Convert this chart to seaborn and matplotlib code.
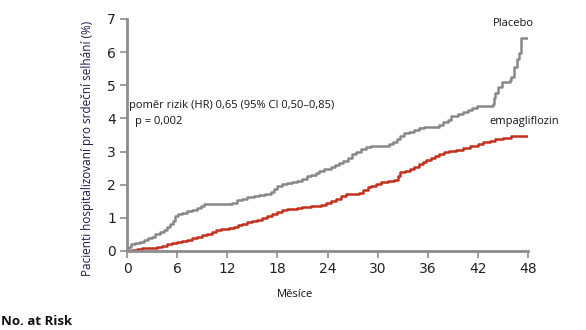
import numpy as np
import pandas as pd
import matplotlib
matplotlib.use("Agg")
import matplotlib.pyplot as plt
import seaborn as sns

# Cumulative incidence of heart-failure hospitalisation (%), step times in months
placebo_t = [0, 0.2, 0.5, 0.9, 1.5, 2.0, 2.5, 3.0, 3.4, 4.0, 4.4, 4.8, 5.2,
             5.5, 5.8, 6.1, 6.6, 7.2, 7.8, 8.4, 8.8, 9.2, 12.6, 13.2, 13.8,
             14.4, 15.2, 15.8, 16.5, 17.2, 17.6, 18.0, 18.5, 19.2, 19.8, 20.4,
             20.9, 21.5, 22.0, 22.6, 23.0, 23.6, 24.4, 24.9, 25.4, 25.8, 26.4,
             26.9, 27.4, 28.0, 28.6, 29.2, 31.4, 31.8, 32.3, 32.7, 33.2, 33.8,
             34.4, 35.0, 35.6, 37.4, 37.8, 38.4, 38.8, 39.6, 40.2, 40.8, 41.3,
             41.9, 43.8, 43.9, 44.1, 44.4, 44.9, 45.8, 46.0, 46.3, 46.7, 46.9,
             47.2, 48.0]
placebo_v = [0, 0.12, 0.2, 0.25, 0.28, 0.32, 0.38, 0.42, 0.52, 0.56, 0.64,
             0.72, 0.8, 0.92, 1.05, 1.12, 1.16, 1.2, 1.24, 1.3, 1.36, 1.41,
             1.46, 1.55, 1.58, 1.62, 1.66, 1.7, 1.73, 1.78, 1.86, 1.95, 2.01,
             2.04, 2.08, 2.12, 2.18, 2.25, 2.3, 2.36, 2.42, 2.48, 2.54, 2.6,
             2.67, 2.73, 2.82, 2.92, 3.0, 3.08, 3.15, 3.18, 3.24, 3.3, 3.38,
             3.46, 3.56, 3.6, 3.64, 3.7, 3.74, 3.8, 3.88, 3.96, 4.06, 4.12,
             4.18, 4.24, 4.3, 4.38, 4.45, 4.62, 4.76, 4.94, 5.09, 5.15, 5.24,
             5.55, 5.8, 5.97, 6.42, 6.42]

empa_t = [0, 0.6, 1.2, 1.8, 3.6, 4.2, 4.8, 5.4, 6.0, 6.6, 7.2, 7.8, 8.4, 9.0,
          9.6, 10.2, 10.7, 11.2, 12.2, 12.8, 13.3, 13.8, 14.4, 15.0, 15.6,
          16.2, 16.8, 17.4, 18.0, 18.6, 19.2, 20.4, 20.9, 22.0, 23.2, 23.8,
          24.4, 25.0, 25.6, 26.2, 27.8, 28.3, 28.8, 29.2, 29.8, 30.4, 31.2,
          32.0, 32.4, 32.7, 33.3, 33.9, 34.4, 34.9, 35.4, 35.8, 36.4, 36.9,
          37.4, 38.0, 38.6, 39.4, 40.2, 41.0, 42.0, 42.6, 43.4, 44.0, 45.0,
          46.0, 48.0]
empa_v = [0, 0.03, 0.06, 0.09, 0.11, 0.15, 0.2, 0.24, 0.28, 0.31, 0.34, 0.38,
          0.42, 0.47, 0.52, 0.57, 0.63, 0.66, 0.68, 0.72, 0.77, 0.82, 0.86,
          0.9, 0.95, 1.0, 1.06, 1.12, 1.18, 1.24, 1.28, 1.3, 1.33, 1.36, 1.4,
          1.46, 1.52, 1.58, 1.66, 1.72, 1.76, 1.84, 1.92, 1.97, 2.02, 2.07,
          2.1, 2.14, 2.26, 2.37, 2.42, 2.48, 2.54, 2.62, 2.7, 2.76, 2.82, 2.88,
          2.94, 2.98, 3.02, 3.06, 3.12, 3.18, 3.24, 3.28, 3.32, 3.37, 3.4,
          3.48, 3.48]

x_ticks = [0, 6, 12, 18, 24, 30, 36, 42, 48]
y_ticks = [0, 1, 2, 3, 4, 5, 6, 7]

sns.set_style("white")
plt.rcParams["font.family"] = ["Open Sans", "DejaVu Sans"]

GRAY = "#888888"
RED = "#c4301c"
SPINE = "#8c8c8c"

df = pd.concat([
    pd.DataFrame({"t": placebo_t, "v": placebo_v, "arm": "Placebo"}),
    pd.DataFrame({"t": empa_t, "v": empa_v, "arm": "empagliflozin"}),
])

fig = plt.figure(figsize=(5.86, 3.30), dpi=100)
ax = fig.add_axes([127 / 586, 1 - 251 / 330, 401 / 586, 232 / 330])

sns.lineplot(data=df, x="t", y="v", hue="arm",
             palette={"Placebo": GRAY, "empagliflozin": RED},
             drawstyle="steps-post", linewidth=1.8, legend=False, ax=ax,
             estimator=None, sort=False)

ax.set_xlim(0, 48)
ax.set_ylim(0, 7)
ax.set_xticks(x_ticks)
ax.set_yticks(y_ticks)
ax.set_xticklabels([str(v) for v in x_ticks])
ax.set_yticklabels([str(v) for v in y_ticks])
tick_font = ["Liberation Sans Narrow", "DejaVu Sans"]
for lab in ax.get_xticklabels() + ax.get_yticklabels():
    lab.set_family(tick_font)
    lab.set_fontsize(10)
    lab.set_color("#222222")
ax.tick_params(axis="both", direction="out", length=5, width=1.2,
               color=SPINE, pad=3)
ax.tick_params(axis="both", which="both", bottom=True, left=True)

for side in ["top", "right"]:
    ax.spines[side].set_visible(False)
for side in ["left", "bottom"]:
    ax.spines[side].set_color(SPINE)
    ax.spines[side].set_linewidth(2.0)

ax.set_xlabel("Měsíce", fontsize=8, color="#111111")
ax.xaxis.set_label_coords(0.42, -0.165)
ax.set_ylabel("Pacienti hospitalizovaní pro srdeční selhání (%)", fontsize=8.5,
              color="#1a1a4a")
ax.yaxis.set_label_coords(-0.082, 0.444)

ax.text(0.2, 4.4, "poměr rizik (HR) 0,65 (95% CI 0,50–0,85)", fontsize=8,
        color="#1a1020", ha="left", va="center")
ax.text(0.9, 3.9, "p = 0,002", fontsize=8, color="#1a1020",
        ha="left", va="center")
ax.text(46.3, 6.85, "Placebo", fontsize=8, color="#111111",
        ha="center", va="center")
ax.text(47.6, 3.9, "empagliflozin", fontsize=8, color="#1a1020",
        ha="center", va="center")

fig.text(0.002, 1 - 315 / 330, "No. at Risk", fontsize=9.5, fontweight="bold",
         color="#111111", ha="left", va="top")

fig.savefig("out.png", dpi=100)
